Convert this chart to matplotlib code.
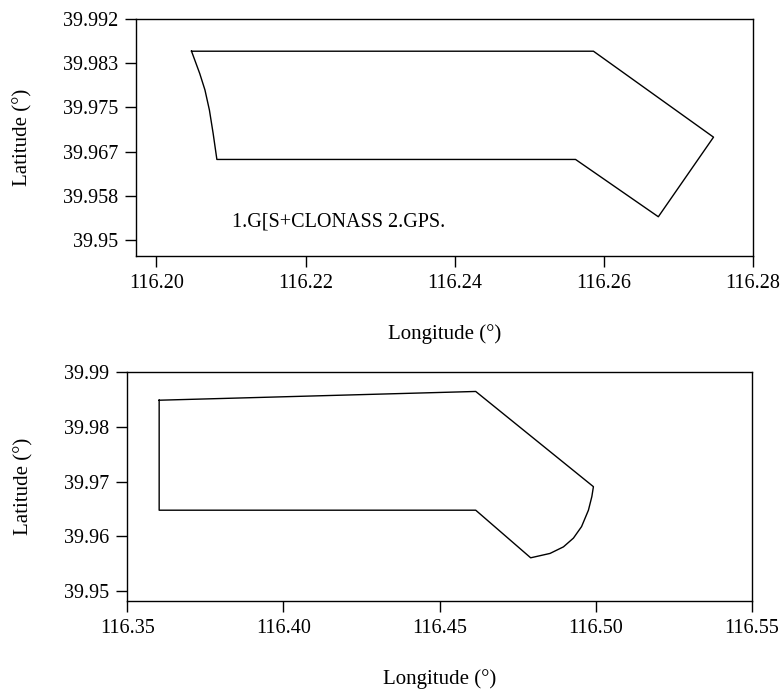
import numpy as np
import matplotlib
matplotlib.use("Agg")
import matplotlib.pyplot as plt

plt.rcParams['font.family'] = ['Liberation Serif', 'DejaVu Serif']

# ---------- top panel: GPS+GLONASS / GPS area ----------
top_lon = [116.2047, 116.2586, 116.2747, 116.2673, 116.2562, 116.2081,
           116.2076, 116.2071, 116.2065, 116.2058, 116.2047]
top_lat = [39.9856, 39.9856, 39.9694, 39.9544, 39.9652, 39.9652,
           39.9701, 39.9745, 39.9783, 39.9814, 39.9856]
top_xticks = [116.20, 116.22, 116.24, 116.26, 116.28]
top_xticklabels = ["116.20", "116.22", "116.24", "116.26", "116.28"]
top_yticks = [39.95, 39.95833, 39.96667, 39.975, 39.98333, 39.99167]
top_yticklabels = ["39.95", "39.958", "39.967", "39.975", "39.983", "39.992"]
top_note = "1.G[S+CLONASS 2.GPS."

# ---------- bottom panel ----------
bot_lon = [116.3602, 116.4616, 116.4993, 116.4988, 116.4977, 116.4955,
           116.4929, 116.4897, 116.4854, 116.4792, 116.4616, 116.3602, 116.3602]
bot_lat = [39.9849, 39.9865, 39.9691, 39.9673, 39.9648, 39.9618,
           39.9597, 39.9581, 39.9569, 39.9561, 39.9648, 39.9648, 39.9849]
bot_xticks = [116.35, 116.40, 116.45, 116.50, 116.55]
bot_xticklabels = ["116.35", "116.40", "116.45", "116.50", "116.55"]
bot_yticks = [39.95, 39.96, 39.97, 39.98, 39.99]
bot_yticklabels = ["39.95", "39.96", "39.97", "39.98", "39.99"]

TICK_FS = 14.5
LABEL_FS = 15

fig = plt.figure(figsize=(7.84, 6.91), dpi=100)
ax1 = fig.add_axes([0.1739, 0.6295, 0.7866, 0.343])
ax2 = fig.add_axes([0.1624, 0.1302, 0.7964, 0.3310])

def style(ax, ypad):
    for s in ax.spines.values():
        s.set_linewidth(1.0)
    ax.tick_params(direction="out", length=8, width=1.0, labelsize=TICK_FS, pad=5)
    ax.set_xlabel("Longitude (°)", fontsize=LABEL_FS, labelpad=22)
    ax.set_ylabel("Latitude (°)", fontsize=LABEL_FS, labelpad=ypad)

ax1.plot(top_lon, top_lat, color="black", lw=1.0)
ax1.set_xlim(116.1973, 116.28)
ax1.set_ylim(39.947, 39.99167)
ax1.set_xticks(top_xticks)
ax1.set_xticklabels(top_xticklabels)
ax1.set_yticks(top_yticks)
ax1.set_yticklabels(top_yticklabels)
ax1.text(116.2101, 39.9535, top_note, fontsize=TICK_FS, va="center", ha="left")
style(ax1, 22)

ax2.plot(bot_lon, bot_lat, color="black", lw=1.0)
ax2.set_xlim(116.35, 116.55)
ax2.set_ylim(39.9482, 39.99)
ax2.set_xticks(bot_xticks)
ax2.set_xticklabels(bot_xticklabels)
ax2.set_yticks(bot_yticks)
ax2.set_yticklabels(bot_yticklabels)
style(ax2, 22)

fig.savefig("out.png", dpi=100)
